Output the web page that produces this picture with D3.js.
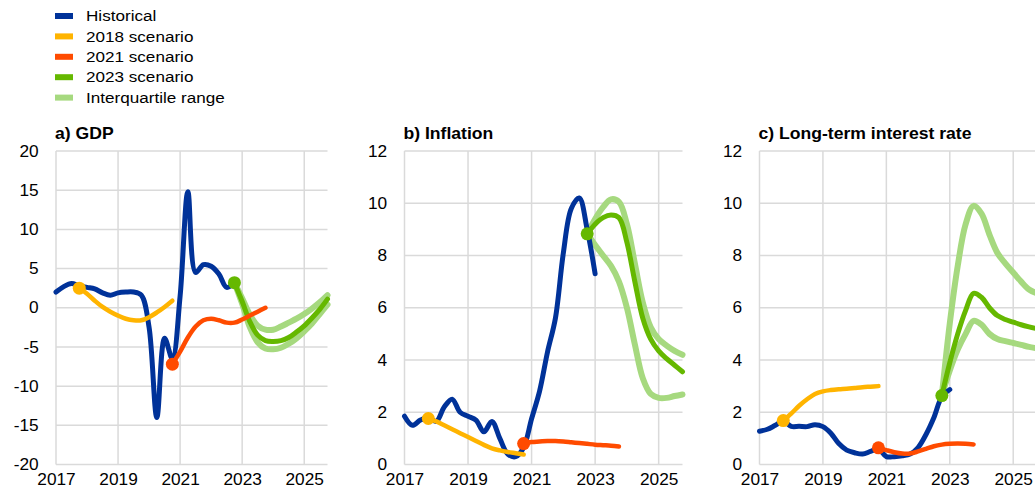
<!DOCTYPE html>
<html>
<head>
<meta charset="utf-8">
<script src="https://cdn.jsdelivr.net/npm/d3@7"></script>
<style>
  body { margin: 0; background: #fff; }
  svg { display: block; font-family: Arial, "Liberation Sans", sans-serif; }
</style>
</head>
<body>
<div id="chart"></div>
<script>
// 数据：季度序列，每个序列从各自的起始季度开始
const YEAR_TICKS = [2017, 2019, 2021, 2023, 2025];
const X_DOMAIN = [2017, 2025.75];

const HIST_START = 2017;
const S2018_START = 2017.75;
const S2021_START = 2020.75;
const S2023_START = 2022.75;

const legendLabels = ['Historical', '2018 scenario', '2021 scenario', '2023 scenario', 'Interquartile range'];
const panelTitles = ['a) GDP', 'b) Inflation', 'c) Long-term interest rate'];
const gdpTicks = [-20, -15, -10, -5, 0, 5, 10, 15, 20];
const rateTicks = [0, 2, 4, 6, 8, 10, 12];

// a) GDP
const gdpHist = [2.0, 2.7, 3.1, 2.8, 2.6, 2.4, 1.9, 1.6, 1.9, 2.0, 2.0, 1.6,
  -2.5, -14.0, -3.9, -6.5, 1.5, 14.8, 4.5, 5.5, 5.3, 4.3, 2.6, 3.2];
const gdp2018 = [2.5, 1.8, 0.9, 0.1, -0.5, -1.0, -1.4, -1.6, -1.6, -1.2, -0.6, 0.1, 0.9];
const gdp2021 = [-7.2, -5.6, -3.8, -2.4, -1.6, -1.4, -1.6, -1.9, -1.9, -1.5, -1.0, -0.5, 0.0];
const gdp2023 = [3.2, 0.8, -1.8, -3.5, -4.2, -4.3, -4.2, -3.8, -3.1, -2.3, -1.3, -0.2, 1.1];
const gdpIqrHigh = [3.2, 1.2, -0.9, -2.3, -2.8, -2.8, -2.4, -1.9, -1.4, -0.8, -0.1, 0.7, 1.6];
const gdpIqrLow = [3.2, 0.5, -2.5, -4.4, -5.2, -5.3, -5.1, -4.6, -3.9, -3.0, -2.0, -0.8, 0.4];

// b) Inflation
const infHist = [1.85, 1.5, 1.7, 1.8, 1.65, 2.2, 2.5, 2.0, 1.85, 1.7, 1.25, 1.65,
  1.0, 0.4, 0.3, 0.65, 1.75, 2.8, 4.3, 5.6, 8.1, 9.8, 10.2, 9.0, 7.3];
const inf2018 = [1.76, 1.65, 1.5, 1.35, 1.2, 1.05, 0.9, 0.75, 0.62, 0.54, 0.48, 0.43, 0.38];
const inf2021 = [0.8, 0.86, 0.88, 0.9, 0.9, 0.88, 0.85, 0.82, 0.79, 0.76, 0.74, 0.72, 0.69];
const inf2023 = [8.83, 9.2, 9.45, 9.55, 9.45, 8.5, 7.0, 5.6, 4.8, 4.35, 4.05, 3.8, 3.55];
const infIqrHigh = [8.83, 9.4, 9.85, 10.15, 10.05, 9.2, 7.7, 6.2, 5.25, 4.8, 4.55, 4.35, 4.2];
const infIqrLow = [8.83, 8.4, 8.0, 7.6, 7.0, 6.0, 4.6, 3.3, 2.7, 2.55, 2.55, 2.62, 2.68];

// c) Long-term interest rate
const ltrHist = [1.27, 1.35, 1.5, 1.65, 1.46, 1.46, 1.45, 1.52, 1.45, 1.2, 0.8, 0.55,
  0.45, 0.4, 0.5, 0.6, 0.3, 0.3, 0.33, 0.4, 0.65, 1.15, 1.8, 2.6, 2.87];
const ltr2018 = [1.68, 1.95, 2.25, 2.5, 2.7, 2.8, 2.85, 2.88, 2.9, 2.93, 2.96, 2.98, 3.0];
const ltr2021 = [0.64, 0.55, 0.47, 0.42, 0.42, 0.5, 0.6, 0.7, 0.76, 0.79, 0.8, 0.79, 0.77];
const ltr2023 = [2.64, 3.9, 5.0, 5.9, 6.55, 6.4, 6.0, 5.7, 5.55, 5.45, 5.35, 5.27, 5.2];
const ltrIqrHigh = [2.64, 5.4, 7.6, 9.2, 9.9, 9.6, 8.8, 8.1, 7.7, 7.35, 7.0, 6.7, 6.55];
const ltrIqrLow = [2.64, 3.6, 4.4, 5.0, 5.5, 5.35, 5.0, 4.8, 4.72, 4.65, 4.58, 4.5, 4.45];

const COLORS = {
  hist: '#003299',
  s2018: '#ffb400',
  s2021: '#ff4b00',
  s2023: '#65b800',
  iqr: '#a6d97f',
  grid: '#dadada',
  text: '#000',
};

const W = 1035, H = 493;
const TOP = 151, BOTTOM = 464.5;

const panels = [
  { title: panelTitles[0], left: 56, right: 327.5, yDomain: [-20, 20], ticks: gdpTicks,
    hist: gdpHist, s2018: gdp2018, s2021: gdp2021, s2023: gdp2023, hi: gdpIqrHigh, lo: gdpIqrLow },
  { title: panelTitles[1], left: 404.5, right: 682.5, yDomain: [0, 12], ticks: rateTicks,
    hist: infHist, s2018: inf2018, s2021: inf2021, s2023: inf2023, hi: infIqrHigh, lo: infIqrLow },
  { title: panelTitles[2], left: 759.5, right: 1037, yDomain: [0, 12], ticks: rateTicks,
    hist: ltrHist, s2018: ltr2018, s2021: ltr2021, s2023: ltr2023, hi: ltrIqrHigh, lo: ltrIqrLow },
];

const toPoints = (start, values) => values.map((v, i) => [start + i * 0.25, v]);

const svg = d3.select('#chart')
  .append('svg')
  .attr('width', W)
  .attr('height', H);

// 图例
const legendItems = [
  [legendLabels[0], COLORS.hist],
  [legendLabels[1], COLORS.s2018],
  [legendLabels[2], COLORS.s2021],
  [legendLabels[3], COLORS.s2023],
  [legendLabels[4], COLORS.iqr],
];

const legend = svg.append('g').attr('class', 'legend');
legend.selectAll('g.item')
  .data(legendItems)
  .enter()
  .append('g')
  .attr('class', 'item')
  .attr('transform', (d, i) => `translate(55, ${16 + i * 20.4})`)
  .each(function (d) {
    const g = d3.select(this);
    g.append('rect')
      .attr('x', 0).attr('y', -3)
      .attr('width', 18).attr('height', 6)
      .attr('fill', d[1]);
    g.append('text')
      .attr('transform', 'translate(31, 0) scale(1.14, 1)')
      .attr('dy', '0.35em')
      .attr('font-size', 15)
      .attr('fill', COLORS.text)
      .text(d[0]);
  });

// 面板
panels.forEach((p) => {
  const x = d3.scaleLinear().domain(X_DOMAIN).range([p.left, p.right]);
  const y = d3.scaleLinear().domain(p.yDomain).range([BOTTOM, TOP]);

  const g = svg.append('g').attr('class', 'panel');

  g.append('text')
    .attr('transform', `translate(${p.left - 1}, ${TOP - 18}) scale(1.1, 1)`)
    .attr('dy', '0.35em')
    .attr('font-size', 16)
    .attr('font-weight', 'bold')
    .attr('fill', COLORS.text)
    .text(p.title);

  // 网格
  g.append('g')
    .selectAll('line.h')
    .data(p.ticks)
    .enter()
    .append('line')
    .attr('x1', p.left).attr('x2', p.right)
    .attr('y1', (d) => y(d)).attr('y2', (d) => y(d))
    .attr('stroke', COLORS.grid)
    .attr('stroke-width', 1.5);

  g.append('g')
    .selectAll('line.v')
    .data(YEAR_TICKS)
    .enter()
    .append('line')
    .attr('x1', (d) => x(d)).attr('x2', (d) => x(d))
    .attr('y1', TOP).attr('y2', BOTTOM)
    .attr('stroke', COLORS.grid)
    .attr('stroke-width', 1.5);

  // 坐标轴（用普通连字符作负号）
  const yAxis = g.append('g')
    .attr('transform', `translate(${p.left}, 0)`)
    .call(d3.axisLeft(y).tickValues(p.ticks).tickSize(0).tickPadding(16).tickFormat((d) => String(d)));
  yAxis.select('.domain').remove();
  yAxis.selectAll('text')
    .attr('font-size', 16)
    .attr('font-family', 'Arial, "Liberation Sans", sans-serif')
    .attr('fill', COLORS.text)
    .attr('transform', 'scale(1.08, 1)');

  const xAxis = g.append('g')
    .attr('transform', `translate(0, ${BOTTOM})`)
    .call(d3.axisBottom(x).tickValues(YEAR_TICKS).tickSize(0).tickPadding(9).tickFormat((d) => String(d)));
  xAxis.select('.domain').remove();
  xAxis.selectAll('text')
    .attr('font-size', 16)
    .attr('font-family', 'Arial, "Liberation Sans", sans-serif')
    .attr('fill', COLORS.text)
    .attr('transform', 'scale(1.08, 1)');

  const line = d3.line()
    .x((d) => x(d[0]))
    .y((d) => y(d[1]))
    .curve(d3.curveCatmullRom.alpha(0.5));

  const series = [
    { pts: toPoints(S2023_START, p.hi), color: COLORS.iqr, w: 6 },
    { pts: toPoints(S2023_START, p.lo), color: COLORS.iqr, w: 6 },
    { pts: toPoints(S2023_START, p.s2023), color: COLORS.s2023, w: 5 },
    { pts: toPoints(HIST_START, p.hist), color: COLORS.hist, w: 5 },
    { pts: toPoints(S2018_START, p.s2018), color: COLORS.s2018, w: 4.5 },
    { pts: toPoints(S2021_START, p.s2021), color: COLORS.s2021, w: 4.5 },
  ];

  g.append('g')
    .selectAll('path.series')
    .data(series)
    .enter()
    .append('path')
    .attr('class', 'series')
    .attr('d', (d) => line(d.pts))
    .attr('fill', 'none')
    .attr('stroke', (d) => d.color)
    .attr('stroke-width', (d) => d.w)
    .attr('stroke-linejoin', 'round')
    .attr('stroke-linecap', 'round');

  const dots = [
    { pt: [S2018_START, p.s2018[0]], color: COLORS.s2018 },
    { pt: [S2021_START, p.s2021[0]], color: COLORS.s2021 },
    { pt: [S2023_START, p.s2023[0]], color: COLORS.s2023 },
  ];

  g.append('g')
    .selectAll('circle')
    .data(dots)
    .enter()
    .append('circle')
    .attr('cx', (d) => x(d.pt[0]))
    .attr('cy', (d) => y(d.pt[1]))
    .attr('r', 6.5)
    .attr('fill', (d) => d.color);
});
</script>
</body>
</html>
